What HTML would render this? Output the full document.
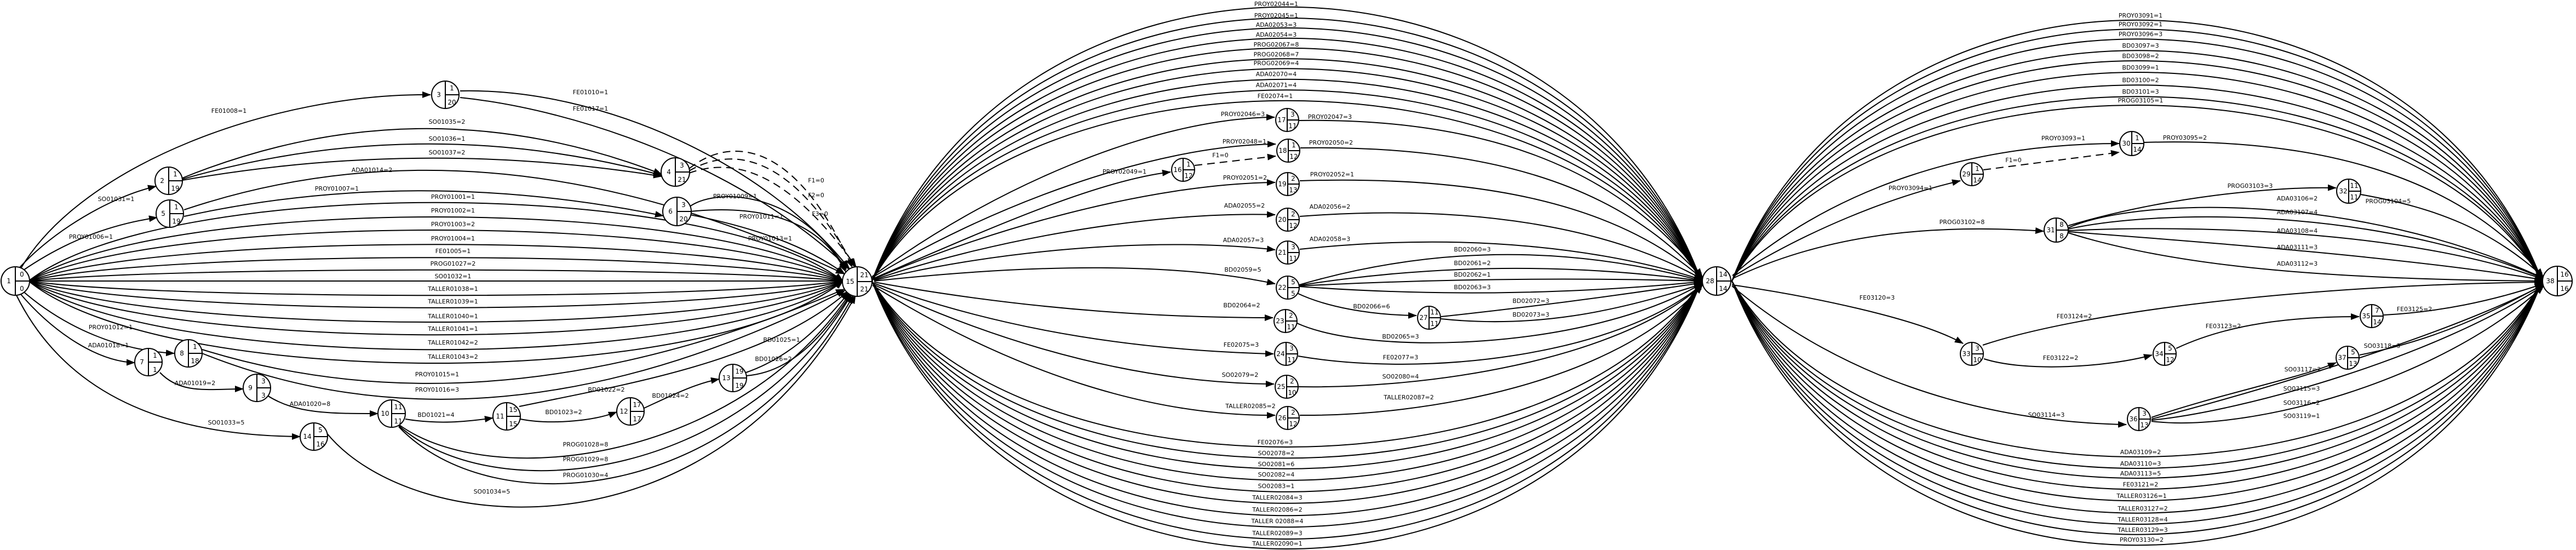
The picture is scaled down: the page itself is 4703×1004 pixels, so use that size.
<!DOCTYPE html>
<html><head><meta charset="utf-8"><style>
html,body{margin:0;padding:0;background:#fff}
svg{display:block}
text{font-family:"DejaVu Sans","Liberation Sans",sans-serif;font-size:11px;fill:#000}
.e{fill:none;stroke:#000;stroke-width:2}
.d{fill:none;stroke:#000;stroke-width:2;stroke-dasharray:14,9}
.l{text-anchor:middle}
.n circle{fill:#fff;stroke:#000;stroke-width:2}
.n line{stroke:#000;stroke-width:2}
.n text{font-size:12px;text-anchor:middle}
</style></head><body>
<svg width="4703" height="1004" viewBox="0 0 4703 1004" xmlns="http://www.w3.org/2000/svg">
<defs><marker id="a" markerUnits="userSpaceOnUse" markerWidth="16" markerHeight="12" refX="15" refY="6" orient="auto"><path d="M0,0 L16,6 L0,12 z" fill="#000"/></marker></defs>
<g marker-end="url(#a)">
<!-- Section 1 direct bundle -->
<path class="e" d="M52 513 C300 322,1290 322,1539 513"/>
<path class="e" d="M52 513 C300 357,1290 357,1539 513"/>
<path class="e" d="M52 513 C300 389,1290 389,1539 513"/>
<path class="e" d="M52 513 C300 424,1290 424,1539 513"/>
<path class="e" d="M52 513 C300 456,1290 456,1539 513"/>
<path class="e" d="M52 513 C300 486,1290 486,1539 513"/>
<path class="e" d="M52 513 L1539 513"/>
<path class="e" d="M52 513 C300 548,1290 548,1539 513"/>
<path class="e" d="M52 513 C300 578,1290 578,1539 513"/>
<path class="e" d="M52 513 C300 613,1290 613,1539 513"/>
<path class="e" d="M52 513 C300 644,1290 644,1539 513"/>
<path class="e" d="M52 513 C300 680,1290 680,1539 513"/>
<path class="e" d="M52 513 C300 713,1290 713,1539 513"/>
<!-- section 1 others -->
<path class="e" d="M38 490 C150 300,500 170,786 173"/>
<path class="e" d="M840 166 C1100 160,1400 300,1550 490"/>
<path class="e" d="M840 178 C1050 200,1350 300,1552 492"/>
<path class="e" d="M36 488 C100 420,200 360,285 340"/>
<path class="e" d="M40 495 C120 440,200 410,287 397"/>
<path class="e" d="M333 325 Q770 148 1208 318"/>
<path class="e" d="M333 327 Q770 202 1208 320"/>
<path class="e" d="M333 329 Q770 252 1208 322"/>
<path class="e" d="M336 383 Q900 194 1541 500"/>
<path class="e" d="M336 395 Q760 302 1211 394"/>
<path class="e" d="M1258 378 C1300 345,1450 340,1545 492"/>
<path class="e" d="M1260 386 C1320 380,1480 370,1544 496"/>
<path class="e" d="M1260 392 C1350 410,1460 440,1542 500"/>
<path class="d" d="M1258 308 C1330 250,1450 250,1556 488"/>
<path class="d" d="M1258 312 C1330 270,1440 270,1560 487"/>
<path class="d" d="M1258 316 C1330 290,1430 300,1563 487"/>
<path class="e" d="M40 530 C120 600,220 640,318 645"/>
<path class="e" d="M36 535 C100 610,180 660,246 662"/>
<path class="e" d="M369 638 Q900 803 1541 528"/>
<path class="e" d="M369 645 Q900 858 1543 530"/>
<path class="e" d="M292 680 C330 720,380 710,444 710"/>
<path class="e" d="M488 722 C540 755,600 755,690 755"/>
<path class="e" d="M740 765 C800 775,850 770,900 763"/>
<path class="e" d="M950 765 C1000 775,1080 770,1126 752"/>
<path class="e" d="M948 742 C1150 700,1400 660,1548 532"/>
<path class="e" d="M1176 745 C1230 720,1270 700,1313 692"/>
<path class="e" d="M1362 680 C1420 660,1480 620,1550 534"/>
<path class="e" d="M1362 686 C1440 680,1500 620,1554 536"/>
<path class="e" d="M728 775 C900 900,1350 840,1552 535"/>
<path class="e" d="M728 777 C900 930,1350 880,1555 537"/>
<path class="e" d="M728 779 C900 960,1350 920,1558 539"/>
<path class="e" d="M30 539 C120 720,300 795,548 797"/>
<path class="e" d="M596 790 C750 980,1300 1030,1562 539"/>
<!-- Section 2 top bundle -->
<path class="e" d="M1592 513 C1840 -154,2858 -154,3106 513"/>
<path class="e" d="M1592 513 C1840 -127,2858 -127,3106 513"/>
<path class="e" d="M1592 513 C1840 -103,2858 -103,3106 513"/>
<path class="e" d="M1592 513 C1840 -78,2858 -78,3106 513"/>
<path class="e" d="M1592 513 C1840 -54,2858 -54,3106 513"/>
<path class="e" d="M1592 513 C1840 -28,2858 -28,3106 513"/>
<path class="e" d="M1592 513 C1840 -4,2858 -4,3106 513"/>
<path class="e" d="M1592 513 C1840 22,2858 22,3106 513"/>
<path class="e" d="M1592 513 C1840 48,2858 48,3106 513"/>
<path class="e" d="M1592 513 C1840 74,2858 74,3106 513"/>
<!-- Section 2 bottom bundle -->
<path class="e" d="M1592 513 C1840 917,2858 917,3106 513"/>
<path class="e" d="M1592 513 C1840 944,2858 944,3106 513"/>
<path class="e" d="M1592 513 C1840 970,2858 970,3106 513"/>
<path class="e" d="M1592 513 C1840 998,2858 998,3106 513"/>
<path class="e" d="M1592 513 C1840 1026,2858 1026,3106 513"/>
<path class="e" d="M1592 513 C1840 1054,2858 1054,3106 513"/>
<path class="e" d="M1592 513 C1840 1084,2858 1084,3106 513"/>
<path class="e" d="M1592 513 C1840 1112,2858 1112,3106 513"/>
<path class="e" d="M1592 513 C1840 1141,2858 1141,3106 513"/>
<path class="e" d="M1592 513 C1840 1165,2858 1165,3106 513"/>
<!-- section 2 inner -->
<path class="e" d="M1592 505 C1800 350,2100 215,2327 214"/>
<path class="e" d="M2372 220 C2700 215,2950 300,3108 505"/>
<path class="e" d="M1592 507 C1800 380,2100 265,2329 263"/>
<path class="e" d="M2374 270 C2700 265,2950 330,3108 507"/>
<path class="e" d="M1593 509 C1800 420,2000 330,2137 314"/>
<path class="d" d="M2181 302 L2329 285"/>
<path class="e" d="M1594 510 C1800 420,2100 335,2328 333"/>
<path class="e" d="M2373 330 C2700 320,2950 370,3108 509"/>
<path class="e" d="M1595 511 C1800 440,2100 385,2328 392"/>
<path class="e" d="M2373 395 C2700 370,2950 420,3108 510"/>
<path class="e" d="M1596 512 C1800 460,2100 430,2328 456"/>
<path class="e" d="M2373 455 C2700 420,2950 460,3108 511"/>
<path class="e" d="M1596 513 C1900 480,2150 480,2328 518"/>
<path class="e" d="M2372 520 Q2740 413 3108 513"/>
<path class="e" d="M2372 521 Q2740 463 3108 513"/>
<path class="e" d="M2372 522 Q2740 503 3108 513"/>
<path class="e" d="M2372 523 Q2740 550 3108 514"/>
<path class="e" d="M2368 535 C2420 560,2500 575,2586 576"/>
<path class="e" d="M2631 578 C2800 560,2950 540,3108 516"/>
<path class="e" d="M2631 582 C2800 600,2950 570,3108 518"/>
<path class="e" d="M1596 515 C1900 570,2150 580,2324 580"/>
<path class="e" d="M2368 590 C2500 650,2900 640,3108 517"/>
<path class="e" d="M1595 517 C1850 610,2100 640,2325 646"/>
<path class="e" d="M2370 650 C2600 690,2950 650,3108 519"/>
<path class="e" d="M1594 519 C1850 640,2100 700,2326 701"/>
<path class="e" d="M2371 706 C2600 710,2950 660,3108 520"/>
<path class="e" d="M1593 521 C1850 680,2100 760,2328 758"/>
<path class="e" d="M2373 758 C2600 760,2950 700,3108 521"/>
<!-- Section 3 top bundle -->
<path class="e" d="M3162 513 C3405 -122,4398 -122,4641 513"/>
<path class="e" d="M3162 513 C3405 -100,4398 -100,4641 513"/>
<path class="e" d="M3162 513 C3405 -76,4398 -76,4641 513"/>
<path class="e" d="M3162 513 C3405 -48,4398 -48,4641 513"/>
<path class="e" d="M3162 513 C3405 -23,4398 -23,4641 513"/>
<path class="e" d="M3162 513 C3405 5,4398 5,4641 513"/>
<path class="e" d="M3162 513 C3405 36,4398 36,4641 513"/>
<path class="e" d="M3162 513 C3405 64,4398 64,4641 513"/>
<path class="e" d="M3162 513 C3405 85,4398 85,4641 513"/>
<!-- Section 3 bottom bundle -->
<path class="e" d="M3162 513 C3405 941,4398 941,4641 513"/>
<path class="e" d="M3162 513 C3405 969,4398 969,4641 513"/>
<path class="e" d="M3162 513 C3405 993,4398 993,4641 513"/>
<path class="e" d="M3162 513 C3405 1020,4398 1020,4641 513"/>
<path class="e" d="M3162 513 C3405 1048,4398 1048,4641 513"/>
<path class="e" d="M3162 513 C3405 1078,4398 1078,4641 513"/>
<path class="e" d="M3162 513 C3405 1105,4398 1105,4641 513"/>
<path class="e" d="M3162 513 C3405 1130,4398 1130,4641 513"/>
<path class="e" d="M3162 513 C3405 1156,4398 1156,4641 513"/>
<!-- section 3 inner -->
<path class="e" d="M3164 505 C3300 420,3450 360,3579 330"/>
<path class="e" d="M3163 503 C3350 340,3600 262,3869 262"/>
<path class="d" d="M3621 310 L3869 278"/>
<path class="e" d="M3914 260 C4250 250,4500 330,4643 505"/>
<path class="e" d="M3164 508 C3350 420,3550 410,3731 422"/>
<path class="e" d="M3776 412 C3950 360,4150 340,4265 343"/>
<path class="e" d="M4310 355 C4450 380,4550 420,4644 506"/>
<path class="e" d="M3776 416 C3900 360,4300 350,4644 508"/>
<path class="e" d="M3776 418 C3950 380,4350 380,4644 509"/>
<path class="e" d="M3776 421 C4000 410,4400 420,4643 510"/>
<path class="e" d="M3776 423 C4000 440,4400 470,4643 511"/>
<path class="e" d="M3776 425 C3950 480,4200 510,4642 513"/>
<path class="e" d="M3162 520 C3300 540,3500 580,3584 627"/>
<path class="e" d="M3620 630 C3800 570,4200 520,4642 515"/>
<path class="e" d="M3622 655 C3700 680,3850 670,3929 648"/>
<path class="e" d="M3973 636 C4050 600,4150 578,4307 578"/>
<path class="e" d="M4352 575 C4450 570,4550 550,4643 518"/>
<path class="e" d="M3162 522 C3350 680,3600 770,3882 775"/>
<path class="e" d="M3928 762 C4050 720,4200 690,4265 662"/>
<path class="e" d="M4308 648 C4450 620,4550 570,4644 519"/>
<path class="e" d="M3928 765 C4100 720,4450 620,4644 520"/>
<path class="e" d="M3928 767 C4100 750,4450 650,4644 521"/>
<path class="e" d="M3928 769 C4100 790,4450 700,4644 522"/>
</g>
<!-- labels -->
<g class="l">
<text x="827" y="363">PROY01001=1</text><text x="827" y="388">PROY01002=1</text><text x="827" y="413">PROY01003=2</text>
<text x="827" y="439">PROY01004=1</text><text x="827" y="462">FE01005=1</text><text x="827" y="485">PROG01027=2</text>
<text x="827" y="508">SO01032=1</text><text x="827" y="531">TALLER01038=1</text><text x="827" y="554">TALLER01039=1</text>
<text x="827" y="581">TALLER01040=1</text><text x="827" y="604">TALLER01041=1</text><text x="827" y="629">TALLER01042=2</text>
<text x="827" y="655">TALLER01043=2</text>
<text x="418" y="206">FE01008=1</text><text x="1078" y="172">FE01010=1</text><text x="1078" y="202">FE01017=1</text>
<text x="212" y="367">SO01031=1</text><text x="166" y="436">PROY01006=1</text>
<text x="816" y="226">SO01035=2</text><text x="816" y="257">SO01036=1</text><text x="816" y="282">SO01037=2</text>
<text x="679" y="314">ADA01014=2</text><text x="615" y="348">PROY01007=1</text>
<text x="1342" y="362">PROY01009=1</text><text x="1390" y="399">PROY01011=1</text><text x="1406" y="439">PROY01013=1</text>
<text x="1490" y="333">F1=0</text><text x="1490" y="360">F2=0</text><text x="1497" y="394">F3=0</text>
<text x="202" y="601">PROY01012=1</text><text x="198" y="634">ADA01018=1</text>
<text x="798" y="687">PROY01015=1</text><text x="798" y="715">PROY01016=3</text>
<text x="356" y="703">ADA01019=2</text><text x="566" y="741">ADA01020=8</text><text x="796" y="761">BD01021=4</text>
<text x="1029" y="756">BD01023=2</text><text x="1107" y="715">BD01022=2</text><text x="1224" y="726">BD01024=2</text>
<text x="1427" y="624">BD01025=1</text><text x="1412" y="659">BD01026=2</text>
<text x="1069" y="815">PROG01028=8</text><text x="1069" y="842">PROG01029=8</text><text x="1069" y="871">PROG01030=4</text>
<text x="413" y="775">SO01033=5</text><text x="898" y="901">SO01034=5</text>
<!-- sec2 -->
<text x="2330" y="11">PROY02044=1</text><text x="2330" y="32">PROY02045=1</text><text x="2330" y="49">ADA02053=3</text>
<text x="2330" y="67">ADA02054=3</text><text x="2330" y="85">PROG02067=8</text><text x="2330" y="103">PROG02068=7</text>
<text x="2330" y="119">PROG02069=4</text><text x="2330" y="139">ADA02070=4</text><text x="2330" y="159">ADA02071=4</text>
<text x="2328" y="179">FE02074=1</text>
<text x="2328" y="811">FE02076=3</text><text x="2330" y="831">SO02078=2</text><text x="2330" y="851">SO02081=6</text>
<text x="2330" y="870">SO02082=4</text><text x="2330" y="891">SO02083=1</text><text x="2332" y="912">TALLER02084=3</text>
<text x="2332" y="934">TALLER02086=2</text><text x="2332" y="955">TALLER 02088=4</text><text x="2332" y="977">TALLER02089=3</text>
<text x="2332" y="996">TALLER02090=1</text>
<text x="2269" y="212">PROY02046=3</text><text x="2428" y="217">PROY02047=3</text>
<text x="2272" y="262">PROY02048=1</text><text x="2430" y="264">PROY02050=2</text>
<text x="2053" y="317">PROY02049=1</text><text x="2228" y="287">F1=0</text>
<text x="2273" y="328">PROY02051=2</text><text x="2432" y="322">PROY02052=1</text>
<text x="2272" y="379">ADA02055=2</text><text x="2428" y="381">ADA02056=2</text>
<text x="2270" y="442">ADA02057=3</text><text x="2428" y="440">ADA02058=3</text>
<text x="2269" y="496">BD02059=5</text>
<text x="2688" y="459">BD02060=3</text><text x="2688" y="484">BD02061=2</text><text x="2688" y="505">BD02062=1</text><text x="2688" y="528">BD02063=3</text>
<text x="2504" y="563">BD02066=6</text><text x="2795" y="553">BD02072=3</text><text x="2795" y="578">BD02073=3</text>
<text x="2267" y="561">BD02064=2</text><text x="2557" y="618">BD02065=3</text>
<text x="2266" y="633">FE02075=3</text><text x="2557" y="656">FE02077=3</text>
<text x="2264" y="688">SO02079=2</text><text x="2557" y="691">SO02080=4</text>
<text x="2283" y="745">TALLER02085=2</text><text x="2572" y="729">TALLER02087=2</text>
<!-- sec3 -->
<text x="3908" y="32">PROY03091=1</text><text x="3908" y="48">PROY03092=1</text><text x="3908" y="66">PROY03096=3</text>
<text x="3908" y="87">BD03097=3</text><text x="3908" y="106">BD03098=2</text><text x="3908" y="127">BD03099=1</text>
<text x="3908" y="150">BD03100=2</text><text x="3908" y="171">BD03101=3</text><text x="3908" y="187">PROG03105=1</text>
<text x="3908" y="829">ADA03109=2</text><text x="3908" y="850">ADA03110=3</text><text x="3908" y="868">ADA03113=5</text>
<text x="3908" y="888">FE03121=2</text><text x="3910" y="909">TALLER03126=1</text><text x="3912" y="932">TALLER03127=2</text>
<text x="3912" y="952">TALLER03128=4</text><text x="3912" y="971">TALLER03129=3</text><text x="3910" y="989">PROY03130=2</text>
<text x="3488" y="347">PROY03094=1</text><text x="3767" y="256">PROY03093=1</text><text x="3676" y="296">F1=0</text>
<text x="3989" y="255">PROY03095=2</text><text x="3582" y="409">PROG03102=8</text><text x="4108" y="343">PROG03103=3</text>
<text x="4360" y="371">PROG03104=5</text>
<text x="4194" y="366">ADA03106=2</text><text x="4194" y="391">ADA03107=4</text><text x="4194" y="425">ADA03108=4</text>
<text x="4194" y="455">ADA03111=3</text><text x="4194" y="485">ADA03112=3</text>
<text x="3427" y="547">FE03120=3</text><text x="3787" y="581">FE03124=2</text><text x="3762" y="657">FE03122=2</text>
<text x="4059" y="599">FE03123=2</text><text x="4408" y="568">FE03125=2</text><text x="3736" y="761">SO03114=3</text>
<text x="4204" y="678">SO03117=2</text><text x="4349" y="635">SO03118=3</text>
<text x="4202" y="713">SO03115=3</text><text x="4202" y="739">SO03116=2</text><text x="4202" y="763">SO03119=1</text>
</g>
<!-- nodes -->
<g class="n">
<g transform="translate(28,513)"><circle r="26"/><line x1="0" y1="-26" x2="0" y2="26"/><line x1="0" y1="0" x2="26" y2="0"/><text x="-12" y="4">1</text><text x="12" y="-8">0</text><text x="12" y="18">0</text></g>
<g transform="translate(308,330)"><circle r="25"/><line x1="0" y1="-25" x2="0" y2="25"/><line x1="0" y1="0" x2="25" y2="0"/><text x="-12" y="4">2</text><text x="12" y="-8">1</text><text x="12" y="18">19</text></g>
<g transform="translate(813,173)"><circle r="25"/><line x1="0" y1="-25" x2="0" y2="25"/><line x1="0" y1="0" x2="25" y2="0"/><text x="-12" y="4">3</text><text x="12" y="-8">1</text><text x="12" y="18">20</text></g>
<g transform="translate(1233,314)"><circle r="26"/><line x1="0" y1="-26" x2="0" y2="26"/><line x1="0" y1="0" x2="26" y2="0"/><text x="-12" y="4">4</text><text x="12" y="-8">3</text><text x="12" y="18">21</text></g>
<g transform="translate(310,390)"><circle r="25"/><line x1="0" y1="-25" x2="0" y2="25"/><line x1="0" y1="0" x2="25" y2="0"/><text x="-12" y="4">5</text><text x="12" y="-8">1</text><text x="12" y="18">19</text></g>
<g transform="translate(1236,386)"><circle r="26"/><line x1="0" y1="-26" x2="0" y2="26"/><line x1="0" y1="0" x2="26" y2="0"/><text x="-12" y="4">6</text><text x="12" y="-8">3</text><text x="12" y="18">20</text></g>
<g transform="translate(271,661)"><circle r="25"/><line x1="0" y1="-25" x2="0" y2="25"/><line x1="0" y1="0" x2="25" y2="0"/><text x="-12" y="4">7</text><text x="12" y="-8">1</text><text x="12" y="18">1</text></g>
<g transform="translate(344,645)"><circle r="25"/><line x1="0" y1="-25" x2="0" y2="25"/><line x1="0" y1="0" x2="25" y2="0"/><text x="-12" y="4">8</text><text x="12" y="-8">1</text><text x="12" y="18">18</text></g>
<g transform="translate(469,708)"><circle r="25"/><line x1="0" y1="-25" x2="0" y2="25"/><line x1="0" y1="0" x2="25" y2="0"/><text x="-12" y="4">9</text><text x="12" y="-8">3</text><text x="12" y="18">3</text></g>
<g transform="translate(715,755)"><circle r="25"/><line x1="0" y1="-25" x2="0" y2="25"/><line x1="0" y1="0" x2="25" y2="0"/><text x="-12" y="4">10</text><text x="12" y="-8">11</text><text x="12" y="18">11</text></g>
<g transform="translate(925,760)"><circle r="25"/><line x1="0" y1="-25" x2="0" y2="25"/><line x1="0" y1="0" x2="25" y2="0"/><text x="-12" y="4">11</text><text x="12" y="-8">15</text><text x="12" y="18">15</text></g>
<g transform="translate(1151,751)"><circle r="25"/><line x1="0" y1="-25" x2="0" y2="25"/><line x1="0" y1="0" x2="25" y2="0"/><text x="-12" y="4">12</text><text x="12" y="-8">17</text><text x="12" y="18">17</text></g>
<g transform="translate(1338,690)"><circle r="25"/><line x1="0" y1="-25" x2="0" y2="25"/><line x1="0" y1="0" x2="25" y2="0"/><text x="-12" y="4">13</text><text x="12" y="-8">19</text><text x="12" y="18">19</text></g>
<g transform="translate(573,797)"><circle r="25"/><line x1="0" y1="-25" x2="0" y2="25"/><line x1="0" y1="0" x2="25" y2="0"/><text x="-12" y="4">14</text><text x="12" y="-8">5</text><text x="12" y="18">16</text></g>
<g transform="translate(1565,514)"><circle r="27"/><line x1="0" y1="-27" x2="0" y2="27"/><line x1="0" y1="0" x2="27" y2="0"/><text x="-13" y="4">15</text><text x="13" y="-8">21</text><text x="13" y="18">21</text></g>
<g transform="translate(2160,310)"><circle r="21"/><line x1="0" y1="-21" x2="0" y2="21"/><line x1="0" y1="0" x2="21" y2="0"/><text x="-10" y="4">16</text><text x="10" y="-6">1</text><text x="10" y="15">12</text></g>
<g transform="translate(2350,219)"><circle r="21"/><line x1="0" y1="-21" x2="0" y2="21"/><line x1="0" y1="0" x2="21" y2="0"/><text x="-10" y="4">17</text><text x="10" y="-6">3</text><text x="10" y="15">11</text></g>
<g transform="translate(2352,275)"><circle r="21"/><line x1="0" y1="-21" x2="0" y2="21"/><line x1="0" y1="0" x2="21" y2="0"/><text x="-10" y="4">18</text><text x="10" y="-6">1</text><text x="10" y="15">12</text></g>
<g transform="translate(2351,336)"><circle r="21"/><line x1="0" y1="-21" x2="0" y2="21"/><line x1="0" y1="0" x2="21" y2="0"/><text x="-10" y="4">19</text><text x="10" y="-6">2</text><text x="10" y="15">13</text></g>
<g transform="translate(2351,401)"><circle r="21"/><line x1="0" y1="-21" x2="0" y2="21"/><line x1="0" y1="0" x2="21" y2="0"/><text x="-10" y="4">20</text><text x="10" y="-6">2</text><text x="10" y="15">12</text></g>
<g transform="translate(2351,461)"><circle r="21"/><line x1="0" y1="-21" x2="0" y2="21"/><line x1="0" y1="0" x2="21" y2="0"/><text x="-10" y="4">21</text><text x="10" y="-6">3</text><text x="10" y="15">11</text></g>
<g transform="translate(2351,525)"><circle r="21"/><line x1="0" y1="-21" x2="0" y2="21"/><line x1="0" y1="0" x2="21" y2="0"/><text x="-10" y="4">22</text><text x="10" y="-6">5</text><text x="10" y="15">5</text></g>
<g transform="translate(2347,586)"><circle r="21"/><line x1="0" y1="-21" x2="0" y2="21"/><line x1="0" y1="0" x2="21" y2="0"/><text x="-10" y="4">23</text><text x="10" y="-6">2</text><text x="10" y="15">11</text></g>
<g transform="translate(2348,646)"><circle r="21"/><line x1="0" y1="-21" x2="0" y2="21"/><line x1="0" y1="0" x2="21" y2="0"/><text x="-10" y="4">24</text><text x="10" y="-6">3</text><text x="10" y="15">11</text></g>
<g transform="translate(2349,706)"><circle r="21"/><line x1="0" y1="-21" x2="0" y2="21"/><line x1="0" y1="0" x2="21" y2="0"/><text x="-10" y="4">25</text><text x="10" y="-6">2</text><text x="10" y="15">10</text></g>
<g transform="translate(2351,763)"><circle r="21"/><line x1="0" y1="-21" x2="0" y2="21"/><line x1="0" y1="0" x2="21" y2="0"/><text x="-10" y="4">26</text><text x="10" y="-6">2</text><text x="10" y="15">12</text></g>
<g transform="translate(2609,580)"><circle r="21"/><line x1="0" y1="-21" x2="0" y2="21"/><line x1="0" y1="0" x2="21" y2="0"/><text x="-10" y="4">27</text><text x="10" y="-6">11</text><text x="10" y="15">11</text></g>
<g transform="translate(3134,513)"><circle r="26"/><line x1="0" y1="-26" x2="0" y2="26"/><line x1="0" y1="0" x2="26" y2="0"/><text x="-12" y="4">28</text><text x="12" y="-8">14</text><text x="12" y="18">14</text></g>
<g transform="translate(3600,318)"><circle r="21"/><line x1="0" y1="-21" x2="0" y2="21"/><line x1="0" y1="0" x2="21" y2="0"/><text x="-10" y="4">29</text><text x="10" y="-6">1</text><text x="10" y="15">14</text></g>
<g transform="translate(3892,262)"><circle r="22"/><line x1="0" y1="-22" x2="0" y2="22"/><line x1="0" y1="0" x2="22" y2="0"/><text x="-10" y="4">30</text><text x="10" y="-6">1</text><text x="10" y="15">14</text></g>
<g transform="translate(3754,420)"><circle r="22"/><line x1="0" y1="-22" x2="0" y2="22"/><line x1="0" y1="0" x2="22" y2="0"/><text x="-10" y="4">31</text><text x="10" y="-6">8</text><text x="10" y="15">8</text></g>
<g transform="translate(4288,349)"><circle r="22"/><line x1="0" y1="-22" x2="0" y2="22"/><line x1="0" y1="0" x2="22" y2="0"/><text x="-10" y="4">32</text><text x="10" y="-6">11</text><text x="10" y="15">11</text></g>
<g transform="translate(3600,646)"><circle r="21"/><line x1="0" y1="-21" x2="0" y2="21"/><line x1="0" y1="0" x2="21" y2="0"/><text x="-10" y="4">33</text><text x="10" y="-6">3</text><text x="10" y="15">10</text></g>
<g transform="translate(3952,646)"><circle r="21"/><line x1="0" y1="-21" x2="0" y2="21"/><line x1="0" y1="0" x2="21" y2="0"/><text x="-10" y="4">34</text><text x="10" y="-6">5</text><text x="10" y="15">12</text></g>
<g transform="translate(4330,577)"><circle r="21"/><line x1="0" y1="-21" x2="0" y2="21"/><line x1="0" y1="0" x2="21" y2="0"/><text x="-10" y="4">35</text><text x="10" y="-6">7</text><text x="10" y="15">14</text></g>
<g transform="translate(3905,765)"><circle r="21"/><line x1="0" y1="-21" x2="0" y2="21"/><line x1="0" y1="0" x2="21" y2="0"/><text x="-10" y="4">36</text><text x="10" y="-6">3</text><text x="10" y="15">13</text></g>
<g transform="translate(4286,653)"><circle r="21"/><line x1="0" y1="-21" x2="0" y2="21"/><line x1="0" y1="0" x2="21" y2="0"/><text x="-10" y="4">37</text><text x="10" y="-6">5</text><text x="10" y="15">13</text></g>
<g transform="translate(4669,513)"><circle r="27"/><line x1="0" y1="-27" x2="0" y2="27"/><line x1="0" y1="0" x2="27" y2="0"/><text x="-13" y="4">38</text><text x="13" y="-8">16</text><text x="13" y="18">16</text></g>
</g>
</svg>
</body></html>
